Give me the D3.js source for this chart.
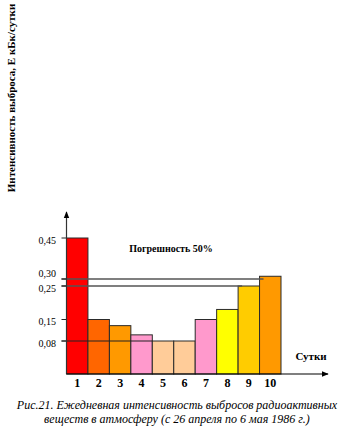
<!DOCTYPE html>
<html>
<head>
<meta charset="utf-8">
<script src="https://cdn.jsdelivr.net/npm/d3@7"></script>
<style>
  body { margin: 0; background: #fff; }
  svg { display: block; font-family: "Liberation Serif", "DejaVu Serif", serif; }
</style>
</head>
<body>
<svg id="chart" width="354" height="428"></svg>
<script>
// Days and daily release intensity
const days = [1, 2, 3, 4, 5, 6, 7, 8, 9, 10];
const values = [0.45, 0.15, 0.13, 0.10, 0.08, 0.08, 0.15, 0.18, 0.25, 0.31];
const colors = ["#ff0000", "#ff6600", "#ff9900", "#ff99cc", "#ffcc99",
                "#ffcc99", "#ff99cc", "#ffff00", "#ffcc00", "#ff9900"];

// Labelled levels on the y axis (the original axis is not to scale)
const yTicks = [0.08, 0.15, 0.25, 0.30, 0.45];
const yTickLabels = ["0,08", "0,15", "0,25", "0,30", "0,45"];

// Horizontal guide lines: level and the day bar they run up to
const guideLevels = [0.08, 0.25, 0.30];
const guideToDay = [5, 9, 10];

const yTitle = "Интенсивность выброса, Е кБк/сутки";
const xTitle = "Сутки";
const note = "Погрешность 50%";
const caption = ["Рис.21. Ежедневная интенсивность выбросов радиоактивных",
                 "веществ в атмосферу (с 26 апреля по 6 мая 1986 г.)"];

const svg = d3.select("#chart");
const x0 = 66.5, baseY = 374;

const x = d3.scaleBand().domain(days).range([x0, 281]).padding(0);
// piecewise scale, as the hand-drawn axis spacing is uneven
const y = d3.scaleLinear()
    .domain([0, 0.08, 0.15, 0.25, 0.30, 0.45])
    .range([baseY, 341, 319.5, 286, 279, 238]);

// bars
svg.append("g").selectAll("rect")
    .data(days)
    .enter()
    .append("rect")
    .attr("x", d => x(d))
    .attr("y", (d, i) => y(values[i]))
    .attr("width", x.bandwidth())
    .attr("height", (d, i) => baseY - y(values[i]))
    .attr("fill", (d, i) => colors[i])
    .attr("stroke", "#2a2a2a")
    .attr("stroke-width", 1);

// guide lines
svg.append("g").selectAll("line")
    .data(guideLevels)
    .enter()
    .append("line")
    .attr("x1", x0 - 5)
    .attr("x2", (d, i) => guideToDay[i] === 5 ? x(guideToDay[i]) : x(guideToDay[i]) + 4)
    .attr("y1", d => y(d))
    .attr("y2", d => y(d))
    .attr("stroke", (d, i) => i === 0 ? "#222" : "#555")
    .attr("stroke-width", (d, i) => i === 0 ? 1.2 : 1.6);

// y ticks and labels
const tickG = svg.append("g");
tickG.selectAll("line")
    .data(yTicks)
    .enter()
    .append("line")
    .attr("x1", x0 - 5)
    .attr("x2", x0)
    .attr("y1", d => y(d))
    .attr("y2", d => y(d))
    .attr("stroke", "#222");
tickG.selectAll("text")
    .data(yTicks)
    .enter()
    .append("text")
    .attr("x", 56)
    .attr("y", d => y(d) + (d === 0.30 ? -6 : 2))
    .attr("dy", "0.35em")
    .attr("text-anchor", "end")
    .attr("font-size", 10)
    .text((d, i) => yTickLabels[i]);

// axes with arrows
svg.append("defs").append("marker")
    .attr("id", "arrow")
    .attr("viewBox", "0 0 10 10")
    .attr("refX", 9).attr("refY", 5)
    .attr("markerWidth", 6).attr("markerHeight", 6)
    .attr("orient", "auto")
    .append("path")
    .attr("d", "M0,1L10,5L0,9Z")
    .attr("fill", "#000");

svg.append("line")
    .attr("x1", x0).attr("x2", x0)
    .attr("y1", baseY).attr("y2", 212)
    .attr("stroke", "#333").attr("stroke-width", 1.2)
    .attr("marker-end", "url(#arrow)");
svg.append("line")
    .attr("x1", x0).attr("x2", 328)
    .attr("y1", baseY).attr("y2", baseY)
    .attr("stroke", "#000").attr("stroke-width", 1.2)
    .attr("marker-end", "url(#arrow)");

// day labels
svg.append("g").selectAll("text")
    .data(days)
    .enter()
    .append("text")
    .attr("x", d => x(d) + x.bandwidth() / 2)
    .attr("y", 387)
    .attr("text-anchor", "middle")
    .attr("font-size", 12)
    .attr("font-weight", "bold")
    .text(d => d);

// titles
svg.append("text")
    .attr("transform", "translate(15,98) rotate(-90)")
    .attr("text-anchor", "middle")
    .attr("font-size", 11)
    .attr("font-weight", "bold")
    .text(yTitle);

svg.append("text")
    .attr("x", 311).attr("y", 360)
    .attr("text-anchor", "middle")
    .attr("font-size", 11)
    .attr("font-weight", "bold")
    .text(xTitle);

svg.append("text")
    .attr("x", 171).attr("y", 252)
    .attr("text-anchor", "middle")
    .attr("font-size", 10)
    .attr("font-weight", "bold")
    .text(note);

svg.append("g").selectAll("text")
    .data(caption)
    .enter()
    .append("text")
    .attr("x", 177)
    .attr("y", (d, i) => 409 + i * 14)
    .attr("text-anchor", "middle")
    .attr("font-size", 12)
    .attr("font-style", "italic")
    .text(d => d);
</script>
</body>
</html>
